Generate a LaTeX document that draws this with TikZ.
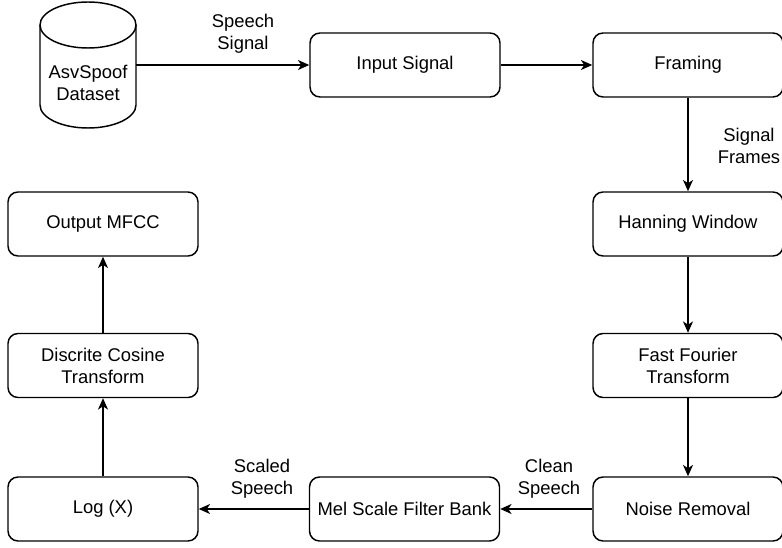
\documentclass[tikz,border=0pt]{standalone}
\usepackage{fontspec}
\setmainfont{Liberation Sans}
\usetikzlibrary{arrows.meta, positioning, calc}

\begin{document}
\begin{tikzpicture}[x=0.75pt, y=0.75pt,
    stepbox/.style={draw, line width=1.1pt, rounded corners=7.5pt,
      minimum width=142.5pt, minimum height=48pt, align=center,
      font=\fontsize{13.8}{16.5}\selectfont},
    edgelbl/.style={align=center, font=\fontsize{13.8}{16.5}\selectfont},
    arr/.style={line width=1.1pt, -{Stealth[length=8.5pt, width=7.5pt, inset=2.5pt]}}]
  \useasboundingbox (0,0) rectangle (782,547);

  % dataset (cylinder)
  \node[minimum width=72pt, minimum height=95pt, inner sep=0pt] (db) at (88,482) {};
  \draw[line width=1.1pt] (40,522) -- (40,442)
    arc[start angle=180, end angle=360, x radius=48, y radius=23] -- (136,522);
  \draw[line width=1.1pt] (88,522) ellipse[x radius=48, y radius=23];
  \node[edgelbl] (dbname) at (88,464) {AsvSpoof\\Dataset};

  % top row
  \node[stepbox] (inp) at (405,482) {Input Signal};
  \node[stepbox] (frm) at (688,482) {Framing};

  % right column
  \node[stepbox] (han) at (688,323) {Hanning Window};
  \node[stepbox] (fft) at (688,181.5) {Fast Fourier\\Transform};
  \node[stepbox] (noi) at (688,38) {Noise Removal};

  % bottom row
  \node[stepbox] (mel) at (404.5,38) {Mel Scale Filter Bank};
  \node[stepbox] (logx) at (103,38) {Log (X)};

  % left column
  \node[stepbox] (dct) at (103,181.5) {Discrite Cosine\\Transform};
  \node[stepbox] (out) at (103,323) {Output MFCC};

  % edge labels
  \node[edgelbl] (lsig) at (243,513) {Speech\\Signal};
  \node[edgelbl] (lfrm) at (749,401.5) {Signal\\Frames};
  \node[edgelbl] (lcln) at (549,68) {Clean\\Speech};
  \node[edgelbl] (lscl) at (262,68) {Scaled\\Speech};

  % connectors
  \draw[arr] (db.east) -- (inp.west);
  \draw[arr] (inp) -- (frm);
  \draw[arr] (frm) -- (han);
  \draw[arr] (han) -- (fft);
  \draw[arr] (fft) -- (noi);
  \draw[arr] (noi) -- (mel);
  \draw[arr] (mel) -- (logx);
  \draw[arr] (logx) -- (dct);
  \draw[arr] (dct) -- (out);
\end{tikzpicture}
\end{document}
